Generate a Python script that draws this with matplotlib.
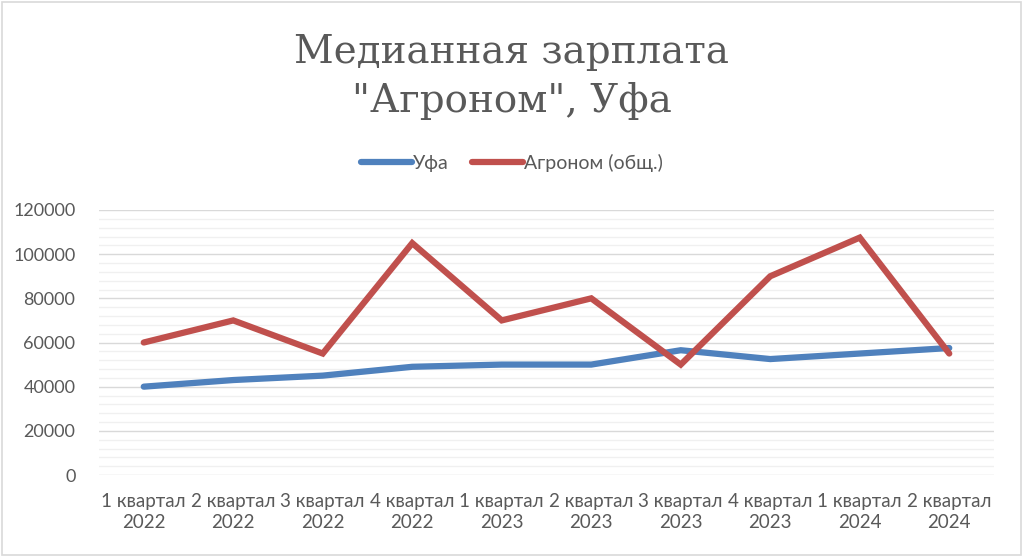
import matplotlib.pyplot as plt
from matplotlib.ticker import MultipleLocator

# данные
kvartaly = ['1 квартал\n2022', '2 квартал\n2022', '3 квартал\n2022', '4 квартал\n2022',
            '1 квартал\n2023', '2 квартал\n2023', '3 квартал\n2023', '4 квартал\n2023',
            '1 квартал\n2024', '2 квартал\n2024']
ufa = [40000, 43000, 45000, 49000, 50000, 50000, 56500, 52500, 55000, 57500]
agronom = [60000, 70000, 55000, 105000, 70000, 80000, 50000, 90000, 107500, 55000]

grey = '#595959'
fig = plt.figure(figsize=(10.24, 5.57), dpi=100)
ax = fig.add_axes([99/1024, 1-475/557, 895/1024, 265/557])

x = range(len(kvartaly))
ax.plot(x, ufa, color='#4F81BD', lw=4.5, solid_capstyle='round', solid_joinstyle='miter', label='Уфа', zorder=3)
ax.plot(x, agronom, color='#C0504D', lw=4.5, solid_capstyle='round', solid_joinstyle='miter', label='Агроном (общ.)', zorder=3)

ax.set_xlim(-0.5, len(kvartaly) - 0.5)
ax.set_ylim(0, 120000)
ax.yaxis.set_major_locator(MultipleLocator(20000))
ax.yaxis.set_minor_locator(MultipleLocator(4000))
ax.grid(which='major', axis='y', color='#D9D9D9', lw=1)
ax.grid(which='minor', axis='y', color='#F0F0F0', lw=1)
ax.set_axisbelow(True)
for s in ax.spines.values():
    s.set_visible(False)
ax.tick_params(which='both', length=0)
ax.set_xticks(list(x))
ax.set_xticklabels(kvartaly, fontsize=13.5, color=grey, family='Lato', linespacing=1.25)
ax.tick_params(axis='x', pad=13)
ax.tick_params(axis='y', labelsize=13, labelcolor=grey, pad=17)
for t in ax.get_yticklabels():
    t.set_family('Lato')

fig.text(0.5, 1-77/557, 'Медианная зарплата\n"Агроном", Уфа', ha='center', va='center',
         fontsize=28, color=grey, family='DejaVu Serif', linespacing=1.36)
fig.legend(loc='center', bbox_to_anchor=(0.5, 1-163/557), ncol=2, frameon=False,
           prop={'family': 'Lato', 'size': 14}, labelcolor=grey, handlelength=2.6,
           handletextpad=0.05, columnspacing=1.2)

fig.patches.append(plt.Rectangle((0.002, 0.003), 0.995, 0.994, transform=fig.transFigure,
                                 fill=False, edgecolor='#D9D9D9', lw=1.2))
fig.savefig('out.png', dpi=100)
